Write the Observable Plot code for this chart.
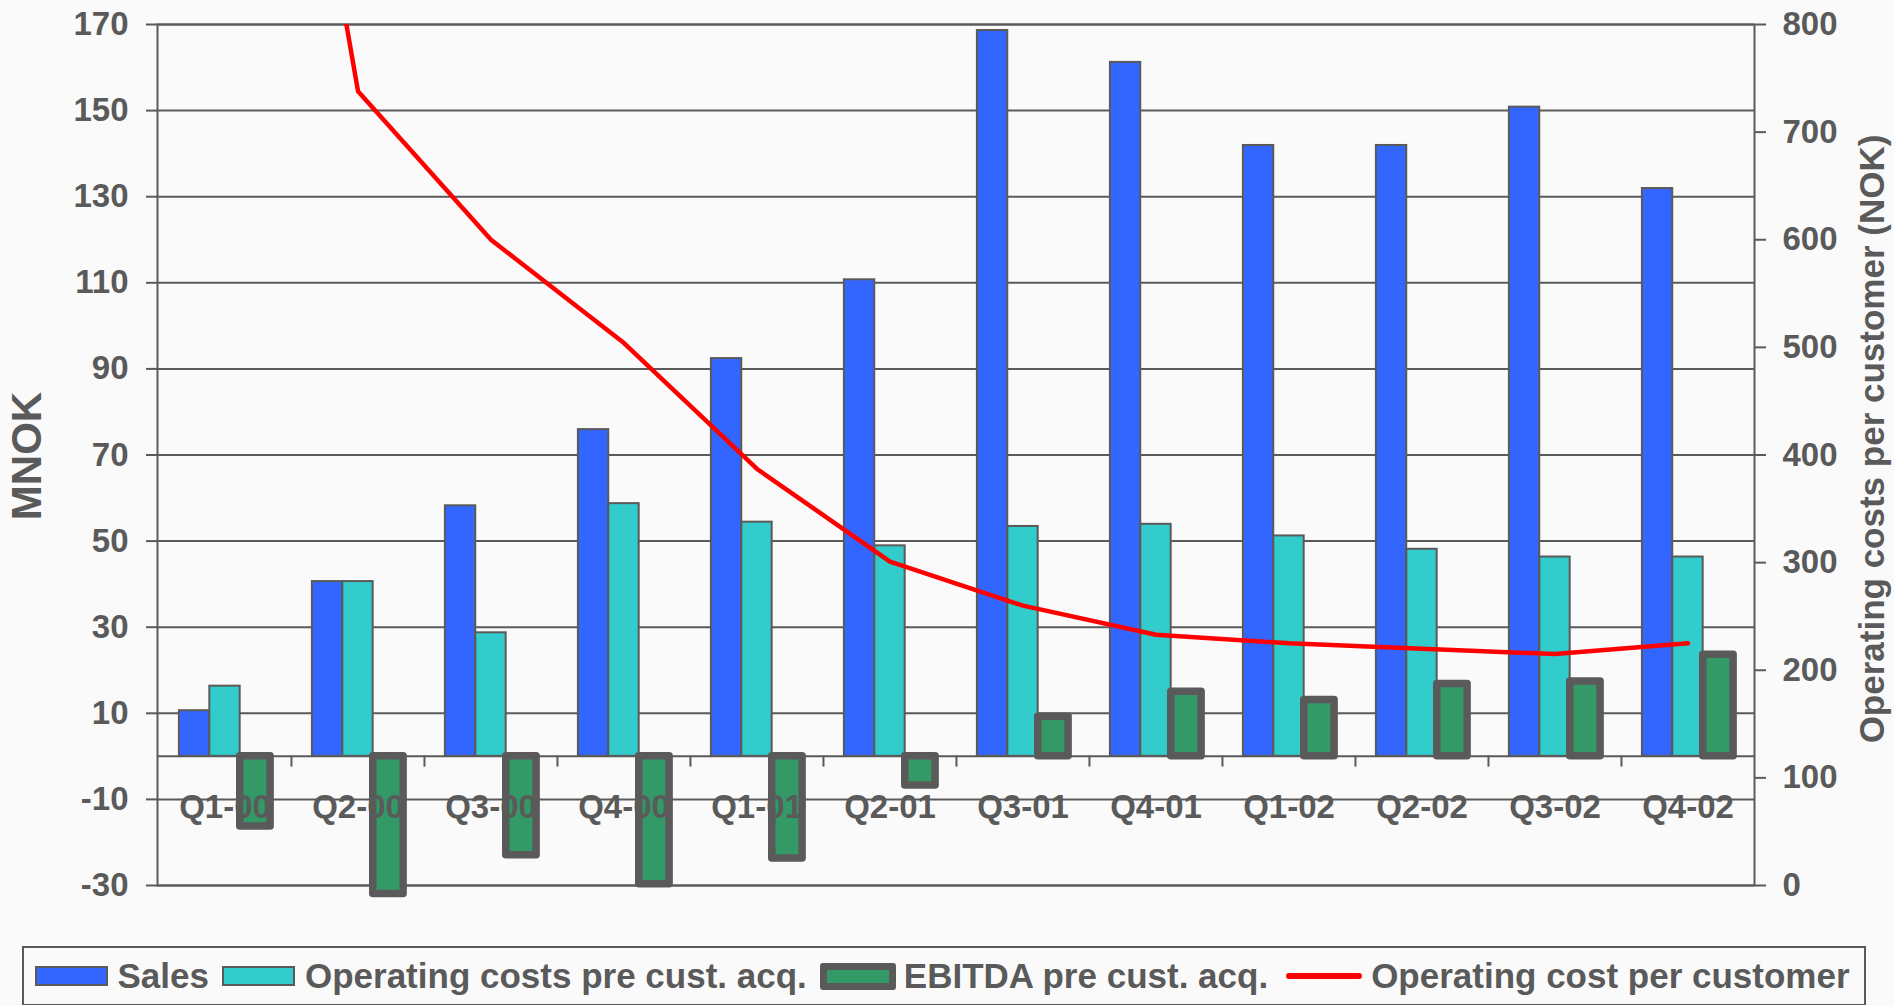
<!DOCTYPE html>
<html>
<head>
<meta charset="utf-8">
<script src="https://cdn.jsdelivr.net/npm/d3@7"></script>
<script src="https://cdn.jsdelivr.net/npm/@observablehq/plot@0.6"></script>
<style>
  html, body { margin: 0; padding: 0; background: #fafafa; }
  body { position: relative; width: 1894px; height: 1005px; overflow: hidden;
         font-family: "Liberation Sans", Arial, sans-serif; }
  #chart svg { display: block; }
  #legend {
    position: absolute; left: 22px; top: 946px; width: 1844px; height: 60px;
    box-sizing: border-box; border: 2px solid #5a5a5a;
    display: flex; align-items: center; padding-left: 10.5px;
    font-weight: bold; font-size: 35px; color: #5a5a5a; white-space: nowrap;
  }
  #legend .sw { box-sizing: border-box; flex: none; margin-right: 10px; }
  #legend .lbl { margin-right: 13px; }
</style>
</head>
<body>
<div id="chart"></div>
<div id="legend"></div>
<script>
// Quarterly figures, MNOK (left axis) and NOK per customer (right axis)
const quarters = ["Q1-00", "Q2-00", "Q3-00", "Q4-00", "Q1-01", "Q2-01",
                  "Q3-01", "Q4-01", "Q1-02", "Q2-02", "Q3-02", "Q4-02"];
const sales = [10.6, 40.6, 58.2, 75.9, 92.4, 110.7, 168.6, 161.2, 141.9, 141.9, 150.8, 131.9];
const opCostsPreAcq = [16.3, 40.6, 28.7, 58.7, 54.4, 48.9, 53.4, 53.9, 51.2, 48.1, 46.3, 46.3];
const ebitdaPreAcq = [-16.3, -32, -23, -29.7, -23.7, -6.8, 9.2, 15.0, 13.1, 16.8, 17.4, 23.6];
const opCostPerCustomer = [1450, 738, 600, 504, 387, 301, 260, 233, 225, 220, 215, 225];

const leftTicks = [-30, -10, 10, 30, 50, 70, 90, 110, 130, 150, 170];
const rightTicks = [0, 100, 200, 300, 400, 500, 600, 700, 800];

const seriesNames = ["Sales", "Operating costs pre cust. acq.", "EBITDA pre cust. acq.", "Operating cost per customer"];
const seriesColors = ["#3366ff", "#33cccc", "#339966", "#ff0000"];

const gray = "#5a5a5a";

// Right axis (0–800 NOK) shares the frame with the left axis (-30–170 MNOK)
const leftDomain = [-30, 170];
const rightDomain = [0, 800];
const toLeft = v => leftDomain[0] + (v - rightDomain[0]) * (leftDomain[1] - leftDomain[0]) / (rightDomain[1] - rightDomain[0]);
const toRight = v => rightDomain[0] + (v - leftDomain[0]) * (rightDomain[1] - rightDomain[0]) / (leftDomain[1] - leftDomain[0]);

const rows = quarters.map((q, i) => ({
  quarter: q,
  sales: sales[i],
  opex: opCostsPreAcq[i],
  ebitda: ebitdaPreAcq[i],
  perCustomer: opCostPerCustomer[i]
}));

const W = 1894, H = 946;
const mL = 157, mR = 140, mT = 24, mB = 61;
const bw = (W - mL - mR) / quarters.length;   // width of one quarter band
const gap = bw * 0.157;                         // free space on each side of a group
const barW = (bw - 2 * gap) / 3;
const slot = k => ({ insetLeft: gap + k * barW, insetRight: bw - gap - (k + 1) * barW });

const font = { fontSize: 33, fontWeight: "bold" };

const chart = Plot.plot({
  width: W, height: H,
  marginLeft: mL, marginRight: mR, marginTop: mT, marginBottom: mB,
  style: { background: "#fafafa", fontFamily: '"Liberation Sans", Arial, sans-serif', overflow: "visible" },
  x: { domain: quarters, padding: 0, axis: null },
  y: { domain: leftDomain, axis: null },
  marks: [
    // gridlines, category axis and plot border
    Plot.ruleY(leftTicks, { stroke: gray, strokeWidth: 2 }),
    Plot.ruleY([0], { stroke: gray, strokeWidth: 2 }),
    Plot.frame({ stroke: gray, strokeWidth: 2 }),
    Plot.ruleX(quarters.slice(1), { x: d => d, y1: 0, y2: -2.5, dx: -bw / 2, stroke: gray, strokeWidth: 2 }),

    // left axis (MNOK)
    Plot.axisY(leftTicks, {
      anchor: "left", tickSize: 11, tickPadding: 18, tickFormat: d => String(d),
      color: gray, strokeWidth: 2, label: null, ...font
    }),
    // right axis (NOK per customer)
    Plot.axisY(rightTicks.map(toLeft), {
      anchor: "right", tickSize: 11, tickPadding: 17,
      tickFormat: d => String(Math.round(toRight(d))),
      color: gray, strokeWidth: 2, label: null, ...font
    }),

    // grouped bars
    Plot.barY(rows, { x: "quarter", y: "sales", fill: seriesColors[0], stroke: gray, strokeWidth: 2, ...slot(0) }),
    Plot.barY(rows, { x: "quarter", y: "opex", fill: seriesColors[1], stroke: gray, strokeWidth: 2, ...slot(1) }),
    Plot.barY(rows, { x: "quarter", y: "ebitda", fill: seriesColors[2], stroke: gray, strokeWidth: 7.5,
                      strokeLinejoin: "round", ...slot(2) }),

    // quarter labels, inside the frame just below the zero line, written over the bars
    Plot.axisX({
      anchor: "bottom", tickSize: 0, tickPadding: 0, dy: -91,
      color: gray, label: null, ...font
    }),

    // operating cost per customer on the right-hand scale
    Plot.line(rows, { x: "quarter", y: d => toLeft(d.perCustomer), stroke: seriesColors[3], strokeWidth: 4.5, clip: true }),

    // axis titles
    Plot.text(["MNOK"], { text: d => d, frameAnchor: "left", textAnchor: "middle", lineAnchor: "middle",
                          rotate: -90, dx: -130, dy: 1,
                          fontSize: 42, fontWeight: "bold", fill: gray }),
    Plot.text(["Operating costs per customer (NOK)"], { text: d => d, frameAnchor: "right", textAnchor: "middle", lineAnchor: "middle",
                          rotate: -90, dx: 118, dy: -16,
                          fontSize: 35, fontWeight: "bold", fill: gray })
  ]
});
document.getElementById("chart").appendChild(chart);

// legend
const legend = document.getElementById("legend");
seriesNames.forEach((name, i) => {
  const sw = document.createElement("span");
  sw.className = "sw";
  if (i < 2) {
    Object.assign(sw.style, { width: "73px", height: "20px", background: seriesColors[i], border: `2px solid ${gray}` });
  } else if (i === 2) {
    Object.assign(sw.style, { width: "76px", height: "27px", background: seriesColors[i], border: `7px solid ${gray}`, borderRadius: "3px", marginRight: "8px" });
  } else {
    Object.assign(sw.style, { width: "76px", height: "6px", background: seriesColors[i], borderRadius: "3px", marginLeft: "5px", marginRight: "9px" });
  }
  const lbl = document.createElement("span");
  lbl.className = "lbl";
  lbl.textContent = name;
  legend.appendChild(sw);
  legend.appendChild(lbl);
});
</script>
</body>
</html>
